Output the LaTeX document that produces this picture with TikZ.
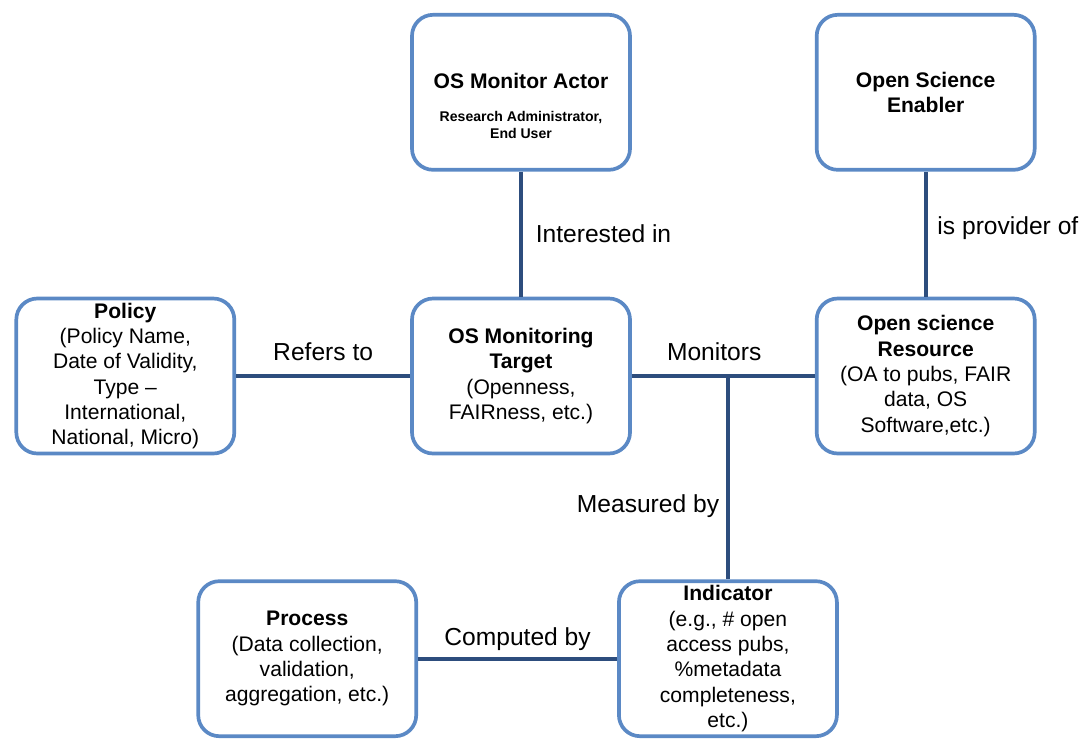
\documentclass[tikz,border=0pt]{standalone}
\usepackage{fontspec}
\setmainfont{Liberation Sans}
\usetikzlibrary{positioning,calc}
\definecolor{osBorder}{HTML}{5B89C5}
\definecolor{osLink}{HTML}{2D4D7D}

\begin{document}
\begin{tikzpicture}[
    osnode/.style={
      rectangle, rounded corners=12pt,
      draw=osBorder, fill=white, line width=2.1pt,
      minimum width=4.36cm, minimum height=3.1cm,
      align=center, inner sep=2pt,
      font=\fontsize{12}{14.4}\selectfont,
      text=black
    },
    link/.style={line width=2.2pt, draw=osLink},
    lbl/.style={font=\fontsize{14}{16.8}\selectfont, text=black}
  ]
    \useasboundingbox (-10.42,7.52) rectangle (11.3,-7.28);

    \node[osnode] (target) {\textbf{OS Monitoring}\\\textbf{Target}\\(Openness,\\FAIRness, etc.)};
    \node[osnode, above=2.5cm of target] (actor) {\rule{0pt}{27pt}\textbf{OS Monitor Actor}\\[4pt]{\fontsize{8}{9.7}\selectfont\bfseries\begin{tabular}[t]{@{}c@{}}Research Administrator,\\End User\end{tabular}}};
    \node[osnode, left=3.48cm of target] (policy) {\textbf{Policy}\\(Policy Name,\\Date of Validity,\\Type --\\International,\\National, Micro)};
    \node[osnode, right=3.66cm of target] (resource) {\textbf{Open science}\\\textbf{Resource}\\(OA to pubs, FAIR\\data, OS\\Software,etc.)};
    \node[osnode, above=2.5cm of resource] (enabler) {\textbf{Open Science}\\\textbf{Enabler}};

    \coordinate (split) at ($(target.east)!0.525!(resource.west)$);
    \coordinate (drop) at (target.south -| split);
    \node[osnode, below=2.48cm of drop] (indicator) {\textbf{Indicator}\\(e.g., \# open\\access pubs,\\\%metadata\\completeness,\\etc.)};
    \node[osnode, left=3.98cm of indicator] (process) {\textbf{Process}\\(Data collection,\\validation,\\aggregation, etc.)};

    \draw[link] (actor) -- node[lbl, midway, right=0.14cm] {Interested in} (target);
    \draw[link] (enabler) -- node[lbl, pos=0.45, right=0.08cm] {is provider of} (resource);
    \draw[link] (policy) -- node[lbl, midway, above=4pt] {Refers to} (target);
    \draw[link] (target) -- node[lbl, pos=0.45, above=4pt] {Monitors} (resource);
    \draw[link] (split) -- node[lbl, pos=0.64, left=0.02cm] {Measured by} (indicator);
    \draw[link] (process) -- node[lbl, midway, above=0pt] {Computed by} (indicator);
  \end{tikzpicture}
\end{document}
